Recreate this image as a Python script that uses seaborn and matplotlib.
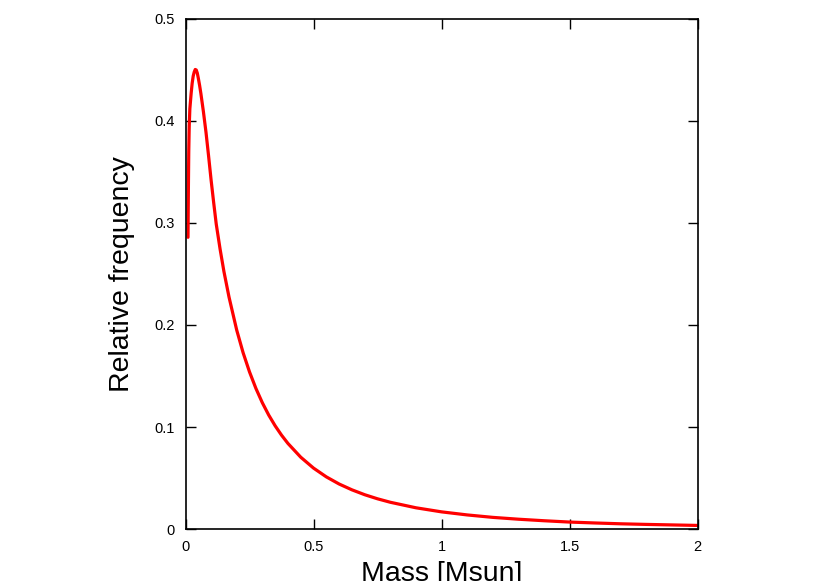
import pandas as pd
import matplotlib
matplotlib.use("Agg")
import matplotlib.pyplot as plt
import seaborn as sns

# curve
mass = [0.0098, 0.0105, 0.0115, 0.0127, 0.0145, 0.017, 0.022, 0.026, 0.030, 0.034,
        0.038, 0.042, 0.046, 0.050, 0.055, 0.060, 0.070, 0.080, 0.090, 0.100,
        0.110, 0.120, 0.135, 0.150, 0.170, 0.200, 0.225, 0.250, 0.275, 0.300,
        0.325, 0.350, 0.375, 0.400, 0.450, 0.500, 0.550, 0.600, 0.650, 0.700,
        0.750, 0.800, 0.900, 1.000, 1.100, 1.200, 1.300, 1.400, 1.500, 1.600,
        1.700, 1.800, 1.900, 2.000]
freq = [0.286, 0.310, 0.340, 0.370, 0.395, 0.412, 0.427, 0.437, 0.444, 0.448,
        0.4505, 0.450, 0.447, 0.442, 0.435, 0.427, 0.409, 0.389, 0.366, 0.342,
        0.320, 0.299, 0.2745, 0.2525, 0.2273, 0.195, 0.1728, 0.154, 0.1378, 0.1238,
        0.1117, 0.1012, 0.0920, 0.0839, 0.0704, 0.0597, 0.0511, 0.0441, 0.0384, 0.0336,
        0.0296, 0.0262, 0.0208, 0.0168, 0.0138, 0.0114, 0.0096, 0.0081, 0.0068, 0.0059,
        0.0051, 0.0045, 0.0040, 0.0035]

xticks = [0, 0.5, 1, 1.5, 2]
xticklabels = ["0", "0.5", "1", "1.5", "2"]
yticks = [0, 0.1, 0.2, 0.3, 0.4, 0.5]
yticklabels = ["0", "0.1", "0.2", "0.3", "0.4", "0.5"]

df = pd.DataFrame({"mass": mass, "freq": freq})

sns.set_style("white")
plt.rcParams["font.family"] = ["Liberation Sans", "DejaVu Sans"]
plt.rcParams["text.color"] = "black"
plt.rcParams["axes.labelcolor"] = "black"

fig = plt.figure(figsize=(8.3, 5.81), dpi=100)
ax = fig.add_axes([0.2235, 0.0895, 0.617, 0.8778])

sns.lineplot(data=df, x="mass", y="freq", color="#ff0000", linewidth=2.3, ax=ax, sort=False)

ax.set_xlim(0, 2)
ax.set_ylim(0, 0.5)
ax.set_xticks(xticks)
ax.set_xticklabels(xticklabels)
ax.set_yticks(yticks)
ax.set_yticklabels(yticklabels)
ax.tick_params(direction="in", length=7, width=1, colors="black", labelsize=10.5,
               top=True, right=True, bottom=True, left=True, pad=8)
for s in ax.spines.values():
    s.set_color("black")
    s.set_linewidth(1.2)

ax.set_xlabel("Mass [Msun]", fontsize=20.5, labelpad=5)
ax.set_ylabel("Relative frequency", fontsize=20.5, labelpad=14)

fig.savefig("out.png", dpi=100)
